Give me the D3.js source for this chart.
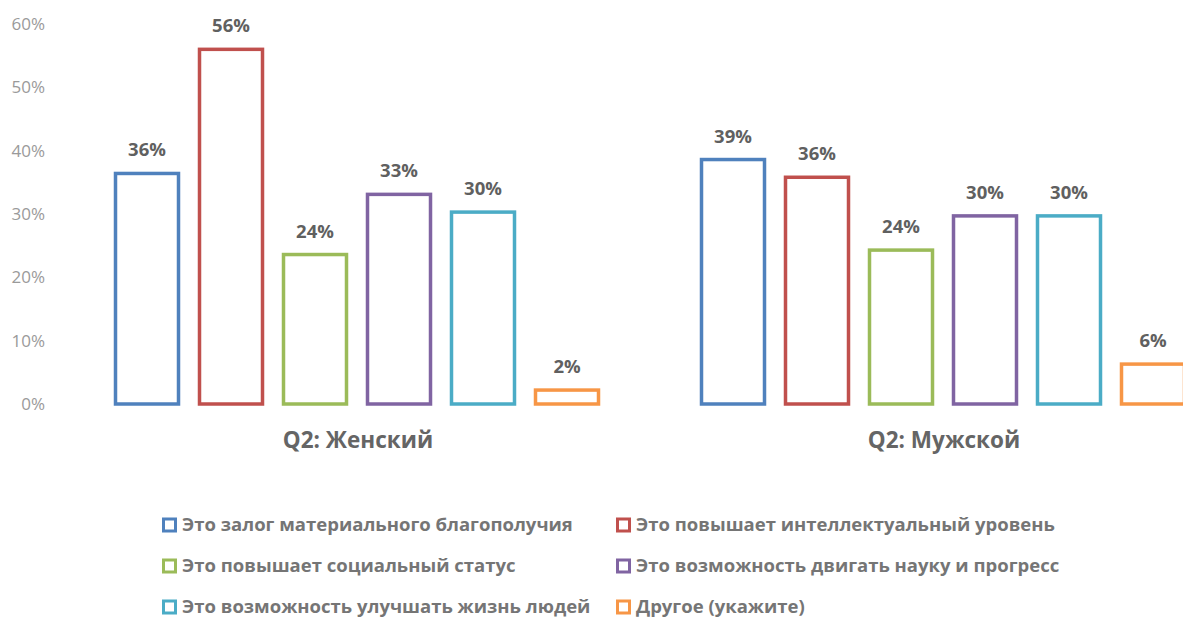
<!DOCTYPE html>
<html>
<head>
<meta charset="utf-8">
<script src="https://cdn.jsdelivr.net/npm/d3@7"></script>
<style>
  body { margin: 0; background: #fff; }
  svg { display: block; font-family: "Open Sans", sans-serif; }
</style>
</head>
<body>
<div class="graph"></div>
<script>
const groups = ["Q2: Женский", "Q2: Мужской"];
const answers = [
  "Это залог материального благополучия",
  "Это повышает интеллектуальный уровень",
  "Это повышает социальный статус",
  "Это возможность двигать науку и прогресс",
  "Это возможность улучшать жизнь людей",
  "Другое (укажите)"
];
const femaleValues = [36.4, 56.0, 23.6, 33.1, 30.3, 2.2];
const maleValues = [38.6, 35.8, 24.3, 29.7, 29.7, 6.3];
const valueLabels = [
  ["36%", "56%", "24%", "33%", "30%", "2%"],
  ["39%", "36%", "24%", "30%", "30%", "6%"]
];
const colors = ["#4f81bd", "#c0504d", "#9bbb59", "#8064a2", "#4bacc6", "#f79646"];
const yTicks = [0, 10, 20, 30, 40, 50, 60];

const width = 1183, height = 618;

const svg = d3.select(".graph").append("svg")
  .attr("width", width)
  .attr("height", height);

const x0 = d3.scaleBand().domain(groups).range([64, 1236]);
const x1 = d3.scaleBand().domain(d3.range(answers.length))
  .range([41, 545]).paddingInner(0.25).paddingOuter(0.125);
const y = d3.scaleLinear().domain([0, 60]).range([404, 24]);

// y axis
const yAxis = d3.axisLeft(y)
  .tickValues(yTicks)
  .tickFormat(d => d + "%")
  .tickSize(0)
  .tickPadding(0);

const gy = svg.append("g")
  .attr("transform", "translate(45,0)")
  .call(yAxis);
gy.select(".domain").remove();
gy.selectAll("text")
  .attr("fill", "#9a9a9a")
  .style("font-size", "17px")
  .style("font-family", "'Open Sans', sans-serif");

const data = [femaleValues, maleValues];

const groupG = svg.selectAll("g.group")
  .data(groups)
  .enter().append("g")
    .attr("class", "group")
    .attr("transform", d => "translate(" + x0(d) + ",0)");

groupG.selectAll("rect")
  .data((d, gi) => data[gi].map((v, i) => ({i: i, v: v})))
  .enter().append("rect")
    .attr("x", d => x1(d.i))
    .attr("y", d => y(d.v))
    .attr("width", x1.bandwidth())
    .attr("height", d => y(0) - y(d.v))
    .attr("fill", "#fff")
    .attr("stroke", d => colors[d.i])
    .attr("stroke-width", 3.5);

groupG.selectAll("text.val")
  .data((d, gi) => data[gi].map((v, i) => ({i: i, v: v, label: valueLabels[gi][i]})))
  .enter().append("text")
    .attr("class", "val")
    .attr("x", d => x1(d.i) + x1.bandwidth() / 2)
    .attr("y", d => y(d.v) - 17)
    .attr("text-anchor", "middle")
    .attr("fill", "#606060")
    .style("font-size", "18.5px")
    .style("font-weight", "bold")
    .text(d => d.label);

groupG.append("text")
  .attr("x", x0.bandwidth() / 2 + 1)
  .attr("y", 448)
  .attr("text-anchor", "middle")
  .attr("fill", "#656565")
  .style("font-size", "22.5px")
  .style("font-weight", "bold")
  .text(d => d);

// legend
const legendX = [162, 616];
const legendY = [525, 566, 607];
const legend = svg.append("g").attr("class", "legend");

const items = legend.selectAll("g")
  .data(answers)
  .enter().append("g")
    .attr("transform", (d, i) => "translate(" + legendX[i % 2] + "," + legendY[Math.floor(i / 2)] + ")");

items.append("rect")
  .attr("x", 1.5)
  .attr("y", -6)
  .attr("width", 12)
  .attr("height", 12)
  .attr("fill", "#fff")
  .attr("stroke", (d, i) => colors[i])
  .attr("stroke-width", 3);

items.append("text")
  .attr("x", 20)
  .attr("dy", "0.35em")
  .attr("fill", "#757575")
  .style("font-size", "18.5px")
  .style("font-weight", "bold")
  .text(d => d);
</script>
</body>
</html>
